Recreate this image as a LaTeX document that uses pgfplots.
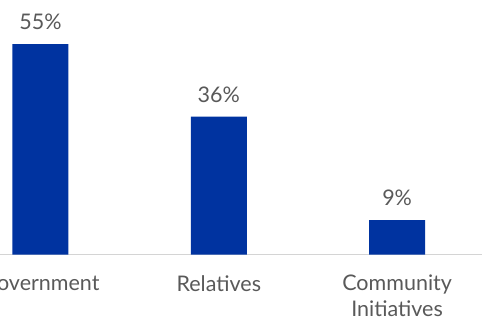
\documentclass[border=0pt]{standalone}
\usepackage{pgfplots}
\pgfplotsset{compat=1.18}
\usepackage{fontspec}
\setmainfont{Lato}
\definecolor{barblue}{HTML}{0033A0}
\definecolor{txtgray}{HTML}{595959}
\begin{document}
\begin{tikzpicture}
\useasboundingbox (0,0) rectangle (482pt,322pt);
\clip (0,0) rectangle (482pt,322pt);
\begin{axis}[
  at={(0,67.5pt)}, anchor=south west,
  scale only axis, width=482pt, height=254.5pt,
  xmin=-0.2271, xmax=2.476, ymin=0, ymax=66.5,
  ybar, bar width=56pt,
  axis y line=none,
  axis x line*=bottom,
  x axis line style={draw=black!17, line width=1.2pt, -},
  xtick={0,1,2}, xticklabels={Government,Relatives,{Community\\Initiatives}},
  xtick style={draw=none},
  xticklabel style={align=center, text=txtgray, font=\fontsize{21.5}{26}\selectfont, yshift=-13pt},
  /pgf/number format/assume math mode=true,
  nodes near coords={\pgfmathprintnumber{\pgfplotspointmeta}\%},
  every node near coord/.append style={text=txtgray, font=\fontsize{21.5}{24}\selectfont, yshift=11pt},
  clip=false,
]
\addplot[fill=barblue, draw=none] coordinates {(0,55) (1,36) (2,9)};
\end{axis}
\end{tikzpicture}
\end{document}
